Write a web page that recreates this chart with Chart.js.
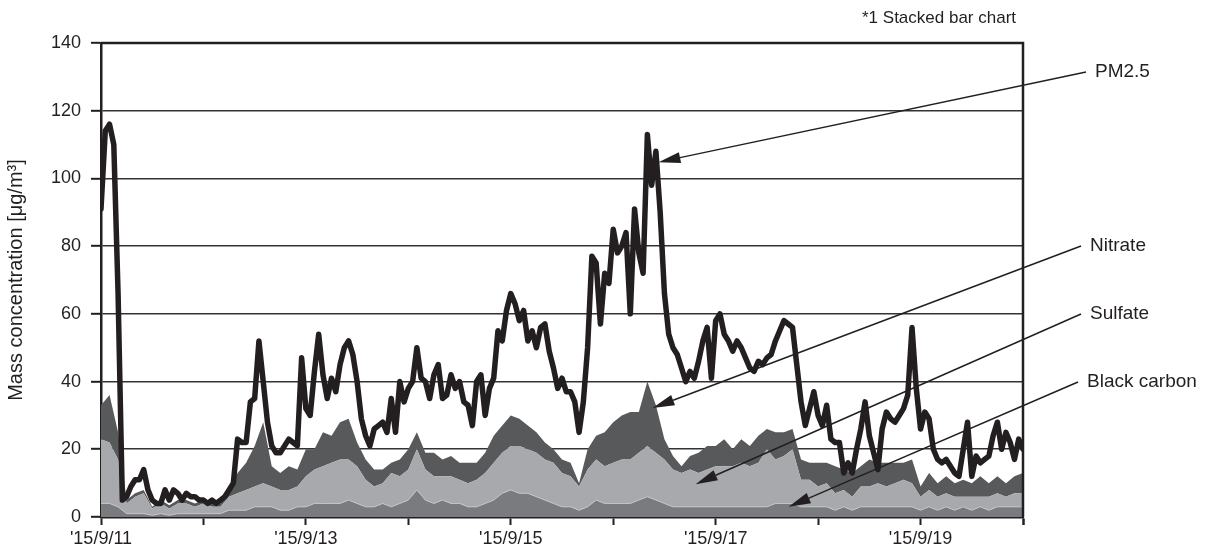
<!DOCTYPE html>
<html>
<head>
<meta charset="utf-8">
<script src="https://cdn.jsdelivr.net/npm/chart.js@4/dist/chart.umd.min.js"></script>
<style>
html, body { margin: 0; padding: 0; background: #fff; }
canvas { display: block; }
</style>
</head>
<body>
<canvas id="c" width="1216" height="549" style="width:1216px;height:549px"></canvas>
<script>
// x axis: hours since '15/9/11 0:00, one tick per day
const dayLabels = ["'15/9/11", "", "'15/9/13", "", "'15/9/15", "", "'15/9/17", "", "'15/9/19", ""];

// PM2.5, hourly (217 values, 9/11 0:00 .. 9/20 0:00)
const pm25 = [
  91, 114, 116, 110, 66, 5, 6, 9, 11, 11, 14, 8, 5, 4, 4, 8, 5, 8, 7, 5, 7, 6, 6, 5,
  5, 4, 5, 4, 5, 6, 8, 10, 23, 22, 22, 34, 35, 52, 40, 28, 21, 19, 19, 21, 23, 22, 21, 47,
  32, 30, 43, 54, 42, 35, 41, 37, 45, 50, 52, 48, 40, 29, 24, 21, 26, 27, 28, 25, 35, 25, 40, 34,
  38, 40, 50, 41, 40, 35, 42, 45, 35, 36, 42, 38, 40, 34, 33, 27, 40, 42, 30, 38, 41, 55, 52, 61,
  66, 63, 58, 61, 52, 55, 50, 56, 57, 49, 44, 38, 41, 37, 37, 34, 25, 34, 50, 77, 75, 57, 72, 69,
  85, 78, 80, 84, 60, 91, 78, 72, 113, 98, 108, 90, 66, 54, 50, 48, 44, 40, 43, 41, 46, 52, 56, 41,
  58, 60, 54, 52, 49, 52, 50, 47, 44, 43, 46, 45, 47, 48, 52, 55, 58, 57, 56, 45, 34, 27, 32, 37,
  30, 27, 33, 23, 22, 22, 13, 16, 13, 20, 26, 34, 24, 19, 14, 26, 31, 29, 28, 30, 32, 36, 56, 38,
  26, 31, 29, 20, 17, 16, 17, 15, 13, 12, 20, 28, 12, 18, 16, 17, 18, 24, 28, 20, 25, 22, 17, 23,
  20
];

// components, every 2 hours (109 values), stacked: black carbon, sulfate, nitrate
const blackCarbon = [
  4, 4, 3, 1, 1, 1, 0.5, 1, 0.5, 1, 1, 1,
  1, 1, 1, 2, 2, 2, 3, 3, 3, 2, 2, 3,
  3, 4, 4, 4, 4, 5, 4, 3, 3, 4, 3, 4,
  5, 8, 5, 4, 5, 4, 4, 3, 3, 4, 5, 7,
  8, 7, 7, 6, 5, 4, 3, 3, 2, 3, 5, 4,
  4, 4, 4, 5, 6, 5, 4, 3, 3, 3, 3, 3,
  3, 3, 3, 3, 3, 3, 3, 4, 4, 4, 3, 3,
  3, 3, 2, 3, 2, 3, 3, 3, 3, 3, 3, 3,
  2, 3, 2, 3, 2, 3, 2, 3, 2, 3, 3, 3,
  3
];
const sulfate = [
  19, 18, 14, 3, 5, 6, 2, 3, 2, 3, 3, 2,
  3, 2, 2, 4, 5, 6, 6, 7, 6, 6, 6, 6,
  9, 10, 11, 12, 13, 12, 11, 8, 6, 6, 10, 8,
  9, 12, 9, 8, 7, 8, 7, 7, 8, 9, 11, 12,
  13, 14, 13, 13, 12, 12, 10, 9, 7, 11, 12, 11,
  12, 13, 13, 14, 15, 14, 13, 11, 10, 11, 10, 11,
  12, 12, 12, 13, 12, 13, 17, 13, 14, 16, 8, 8,
  6, 7, 5, 5, 4, 6, 6, 7, 6, 7, 8, 7,
  4, 5, 4, 4, 4, 3, 4, 3, 4, 4, 3, 4,
  4
];
const nitrate = [
  10, 14, 8, 1, 1, 1, 0.5, 1, 1, 1, 1, 1,
  1, 1, 1, 2, 6, 8, 12, 18, 6, 5, 7, 5,
  8, 6, 10, 8, 11, 12, 7, 6, 5, 4, 3, 5,
  6, 5, 5, 7, 5, 6, 5, 6, 5, 6, 8, 8,
  9, 8, 7, 6, 5, 4, 4, 4, 1, 6, 7, 10,
  12, 13, 14, 12, 19, 14, 6, 4, 2, 4, 6, 7,
  6, 8, 5, 7, 6, 8, 6, 8, 7, 6, 6, 5,
  7, 6, 8, 6, 7, 6, 8, 6, 7, 6, 5, 7,
  3, 5, 4, 5, 4, 5, 4, 6, 4, 5, 4, 5,
  6
];

// callout labels; arrow tips in data units (hour, value)
const callouts = [
  { text: 'PM2.5', lx: 1095, ly: 72, hour: 130.6, value: 104.8 },
  { text: 'Nitrate', lx: 1090, ly: 246, hour: 129.2, value: 32.2 },
  { text: 'Sulfate', lx: 1090, ly: 314, hour: 139.3, value: 9.7 },
  { text: 'Black carbon', lx: 1087, ly: 382, hour: 161.1, value: 3.0 }
];

const ink = '#231f20';
const fontFamily = '"Liberation Sans", Arial, Helvetica, sans-serif';
const tickFont = { family: fontFamily, size: 18 };

const hourly = pm25.map((v, i) => ({ x: i, y: v }));
const twoHourly = (arr) => arr.map((v, i) => ({ x: i * 2, y: v }));

const extras = {
  id: 'extras',
  afterDraw(chart) {
    const { ctx, chartArea: a, scales } = chart;
    ctx.save();
    // top and right frame
    ctx.strokeStyle = ink;
    ctx.lineWidth = 2.5;
    ctx.beginPath();
    ctx.moveTo(a.left, a.top);
    ctx.lineTo(a.right, a.top);
    ctx.lineTo(a.right, a.bottom);
    ctx.stroke();

    ctx.fillStyle = ink;
    ctx.textBaseline = 'middle';
    ctx.textAlign = 'left';
    ctx.font = '17px ' + fontFamily;
    ctx.fillText('*1 Stacked bar chart', 862, 18);

    // y axis title
    ctx.save();
    ctx.font = '20px ' + fontFamily;
    ctx.translate(16, (a.top + a.bottom) / 2);
    ctx.rotate(-Math.PI / 2);
    ctx.textAlign = 'center';
    ctx.fillText('Mass concentration [\u03bcg/m\u00b3]', 0, 0);
    ctx.restore();

    // callouts
    ctx.font = '19px ' + fontFamily;
    callouts.forEach(c => {
      ctx.textAlign = 'left';
      ctx.fillText(c.text, c.lx, c.ly);
      const sx = c.lx - 9, sy = c.ly;
      const tx = scales.x.getPixelForValue(c.hour);
      const ty = scales.y.getPixelForValue(c.value);
      const ang = Math.atan2(sy - ty, sx - tx);
      const len = 22, hw = 5.5;
      const bx = tx + Math.cos(ang) * len, by = ty + Math.sin(ang) * len;
      ctx.lineWidth = 1.5;
      ctx.beginPath();
      ctx.moveTo(sx, sy);
      ctx.lineTo(bx, by);
      ctx.stroke();
      ctx.beginPath();
      ctx.moveTo(tx, ty);
      ctx.lineTo(bx - Math.sin(ang) * hw, by + Math.cos(ang) * hw);
      ctx.lineTo(bx + Math.sin(ang) * hw, by - Math.cos(ang) * hw);
      ctx.closePath();
      ctx.fill();
    });
    ctx.restore();
  }
};

new Chart(document.getElementById('c'), {
  type: 'line',
  data: {
    datasets: [
      { label: 'PM2.5', data: hourly, stack: 'pm', order: 0, fill: false,
        borderColor: ink, borderWidth: 5.5, borderJoinStyle: 'round', borderCapStyle: 'round',
        pointRadius: 0, tension: 0 },
      { label: 'Black carbon', data: twoHourly(blackCarbon), stack: 'comp', order: 1, fill: 'origin',
        backgroundColor: '#7a7b7e', borderColor: '#c4c5c7', borderWidth: 1, pointRadius: 0, tension: 0 },
      { label: 'Sulfate', data: twoHourly(sulfate), stack: 'comp', order: 2, fill: '-1',
        backgroundColor: '#a7a9ac', borderColor: 'rgba(0,0,0,0)', borderWidth: 1, pointRadius: 0, tension: 0 },
      { label: 'Nitrate', data: twoHourly(nitrate), stack: 'comp', order: 3, fill: '-1',
        backgroundColor: '#58595b', borderColor: 'rgba(0,0,0,0)', borderWidth: 1, pointRadius: 0, tension: 0 }
    ]
  },
  options: {
    responsive: false,
    devicePixelRatio: 1,
    animation: false,
    layout: { padding: { left: 0, right: 193, top: 43, bottom: 0 } },
    plugins: { legend: { display: false }, tooltip: { enabled: false } },
    scales: {
      x: {
        type: 'linear', min: 0, max: 216,
        afterBuildTicks: s => { s.ticks = dayLabels.map((_, i) => ({ value: i * 24 })).concat([{ value: 216 }]); },
        ticks: { autoSkip: false, maxRotation: 0, padding: 3, color: ink, font: tickFont,
          callback: v => dayLabels[v / 24] || '' },
        grid: { drawOnChartArea: false, tickLength: 8, tickColor: ink, tickWidth: 2 },
        border: { color: ink, width: 2.5 },
        afterFit: s => { s.height = 32; }
      },
      y: {
        stacked: true, min: 0, max: 140,
        ticks: { stepSize: 20, padding: 10, color: ink, font: tickFont },
        grid: { color: '#333333', lineWidth: 1.6, tickLength: 10, tickColor: ink, tickWidth: 2 },
        border: { color: ink, width: 2.5 },
        afterFit: s => { s.width = 101; }
      }
    }
  },
  plugins: [extras]
});
</script>
</body>
</html>
